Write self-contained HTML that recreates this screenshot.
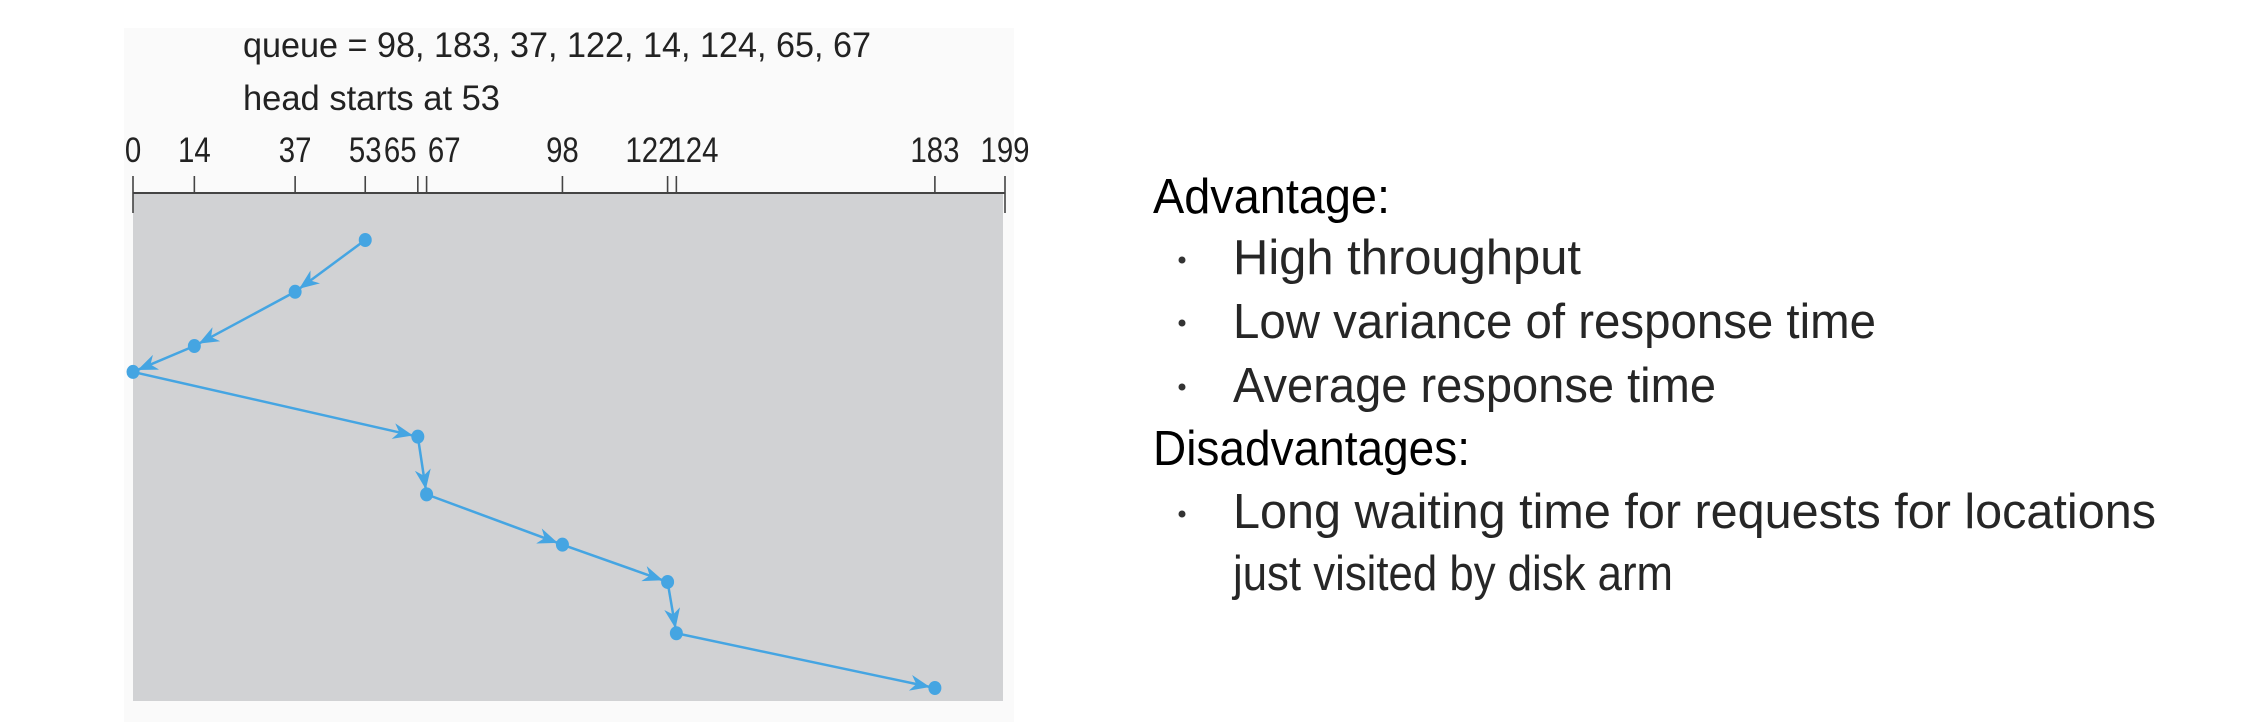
<!DOCTYPE html>
<html><head><meta charset="utf-8"><style>
html,body{margin:0;padding:0;background:#fff;}
svg{display:block;}
</style></head><body>
<svg width="2258" height="722" viewBox="0 0 2258 722" xmlns="http://www.w3.org/2000/svg">
<rect x="124" y="28" width="890" height="694" fill="#fafafa"/>
<text x="243" y="57" font-family="Liberation Sans, sans-serif" font-size="35" fill="#222" textLength="628" lengthAdjust="spacingAndGlyphs">queue = 98, 183, 37, 122, 14, 124, 65, 67</text>
<text x="243" y="110" font-family="Liberation Sans, sans-serif" font-size="35" fill="#222" textLength="257" lengthAdjust="spacingAndGlyphs">head starts at 53</text>
<rect x="133" y="193" width="870" height="508" fill="#d1d2d4"/>
<g id="axis"></g>
<g id="marks"></g>
<g font-family="Liberation Sans, sans-serif">
<text x="1153" y="213" font-size="49" fill="#000" textLength="237" lengthAdjust="spacingAndGlyphs">Advantage:</text>
<circle cx="1182" cy="260" r="3.5" fill="#333"/>
<text x="1233" y="274" font-size="49" fill="#262626" textLength="348" lengthAdjust="spacingAndGlyphs">High throughput</text>
<circle cx="1182" cy="323" r="3.5" fill="#333"/>
<text x="1233" y="338" font-size="49" fill="#262626" textLength="643" lengthAdjust="spacingAndGlyphs">Low variance of response time</text>
<circle cx="1182" cy="387" r="3.5" fill="#333"/>
<text x="1233" y="402" font-size="49" fill="#262626" textLength="483" lengthAdjust="spacingAndGlyphs">Average response time</text>
<text x="1153" y="465" font-size="49" fill="#000" textLength="317" lengthAdjust="spacingAndGlyphs">Disadvantages:</text>
<circle cx="1182" cy="514" r="3.5" fill="#333"/>
<text x="1233" y="528" font-size="49" fill="#262626" textLength="923" lengthAdjust="spacingAndGlyphs">Long waiting time for requests for locations</text>
<text x="1233" y="590" font-size="49" fill="#262626" textLength="440" lengthAdjust="spacingAndGlyphs">just visited by disk arm</text>
</g>
</svg>
<script>
const tickValues = [0, 14, 37, 53, 65, 67, 98, 122, 124, 183, 199];
const tickLabels = ["0", "14", "37", "53", "65", "67", "98", "122", "124", "183", "199"];
const visitOrder = [53, 37, 14, 0, 65, 67, 98, 122, 124, 183];
const timeSteps = [0, 1.04, 2.13, 2.65, 3.95, 5.11, 6.12, 6.87, 7.9, 9];

const NS = "http://www.w3.org/2000/svg";
const X0 = 133, X1 = 1005, DMAX = 199;
function xScale(v){ return X0 + (v / DMAX) * (X1 - X0); }
const Y0 = 240, Y1 = 688, SMAX = 9;
function yScale(s){ return Y0 + (s / SMAX) * (Y1 - Y0); }
const AXIS_Y = 193;

const axis = document.getElementById('axis');
const base = document.createElementNS(NS, 'line');
base.setAttribute('x1', xScale(0)); base.setAttribute('x2', xScale(DMAX));
base.setAttribute('y1', AXIS_Y); base.setAttribute('y2', AXIS_Y);
base.setAttribute('stroke', '#444'); base.setAttribute('stroke-width', '2');


axis.appendChild(base);
function labelShift(i){
  const x = xScale(tickValues[i]);
  const prev = i > 0 ? xScale(tickValues[i-1]) : -1e9;
  const next = i < tickValues.length-1 ? xScale(tickValues[i+1]) : 1e9;
  if (next - x < 25) return -( (20 - (next - x)/2) + 2 );
  if (x - prev < 25) return  ( (20 - (x - prev)/2) + 2 );
  return 0;
}
tickValues.forEach((v, i) => {
  const x = xScale(v);
  const t = document.createElementNS(NS, 'line');
  t.setAttribute('x1', x); t.setAttribute('x2', x);
  t.setAttribute('y1', 176);
  t.setAttribute('y2', (i === 0 || i === tickValues.length - 1) ? 213 : AXIS_Y);
  t.setAttribute('stroke', '#444'); t.setAttribute('stroke-width', '1.6');
  
  
  axis.appendChild(t);
  const lab = document.createElementNS(NS, 'text');
  lab.setAttribute('x', 0); lab.setAttribute('y', 0);
  lab.setAttribute('text-anchor', 'middle');
  lab.setAttribute('font-family', 'Liberation Sans, sans-serif');
  lab.setAttribute('font-size', '35');
  lab.setAttribute('fill', '#222');
  lab.setAttribute('transform', 'translate(' + (x + labelShift(i)) + ',162) scale(0.84,1)');
  lab.textContent = tickLabels[i];
  
  
  axis.appendChild(lab);
});

const marks = document.getElementById('marks');
const defs = document.createElementNS(NS, 'defs');
defs.innerHTML = '<marker id="arr" viewBox="0 0 20 16" refX="19" refY="8" markerWidth="20" markerHeight="16" markerUnits="userSpaceOnUse" orient="auto"><path d="M0,0 L20,8 L0,16 L6,8 z" fill="#45a5e2"/></marker>';
marks.appendChild(defs);
const pts = visitOrder.map((v, i) => [xScale(v), yScale(timeSteps[i])]);
for (let i = 0; i < pts.length - 1; i++) {
  const [ax, ay] = pts[i], [bx, by] = pts[i + 1];
  const d = Math.hypot(bx - ax, by - ay), r = 6;
  const ln = document.createElementNS(NS, 'line');
  ln.setAttribute('x1', ax); ln.setAttribute('y1', ay);
  ln.setAttribute('x2', bx - (bx - ax) * r / d); ln.setAttribute('y2', by - (by - ay) * r / d);
  ln.setAttribute('stroke', '#45a5e2'); ln.setAttribute('stroke-width', '2.5');
  ln.setAttribute('marker-end', 'url(#arr)');
  
  
  marks.appendChild(ln);
}
pts.forEach(p => {
  const c = document.createElementNS(NS, 'ellipse');
  c.setAttribute('cx', p[0]); c.setAttribute('cy', p[1]);
  c.setAttribute('rx', 6.5); c.setAttribute('ry', 7);
  c.setAttribute('fill', '#45a5e2');
  
  
  marks.appendChild(c);
});
</script>
</body></html>
